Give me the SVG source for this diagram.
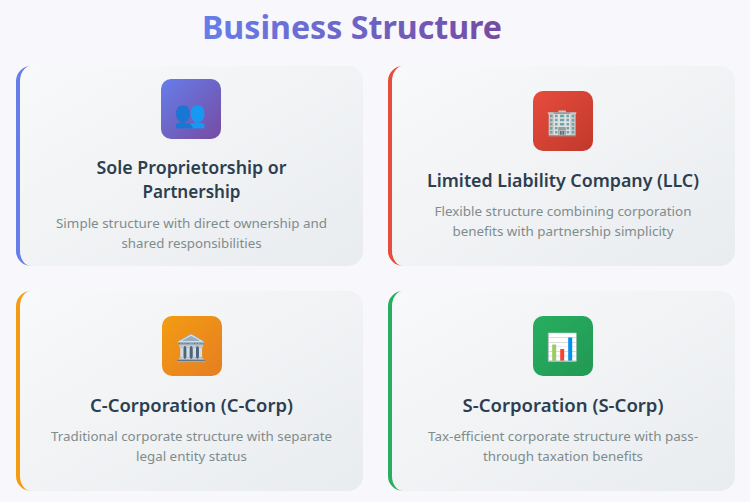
<svg xmlns="http://www.w3.org/2000/svg" width="750" height="502" viewBox="0 0 750 502">
<defs>
<linearGradient id="gTitle" x1="0" y1="0" x2="1" y2="0"><stop offset="0" stop-color="#667eea"/><stop offset="1" stop-color="#764ba2"/></linearGradient>
<linearGradient id="gCard" x1="0" y1="0" x2="1" y2="1"><stop offset="0" stop-color="#f8f9fa"/><stop offset="1" stop-color="#e9ecef"/></linearGradient>
<linearGradient id="gBlue" x1="0" y1="0" x2="1" y2="1"><stop offset="0" stop-color="#667eea"/><stop offset="1" stop-color="#764ba2"/></linearGradient>
<linearGradient id="gRed" x1="0" y1="0" x2="1" y2="1"><stop offset="0" stop-color="#e74c3c"/><stop offset="1" stop-color="#c0392b"/></linearGradient>
<linearGradient id="gOrange" x1="0" y1="0" x2="1" y2="1"><stop offset="0" stop-color="#f39c12"/><stop offset="1" stop-color="#e67e22"/></linearGradient>
<linearGradient id="gGreen" x1="0" y1="0" x2="1" y2="1"><stop offset="0" stop-color="#27ae60"/><stop offset="1" stop-color="#229954"/></linearGradient>
<path id="cardShape" d="M15 0 H332 A15 15 0 0 1 347 15 V185 A15 15 0 0 1 332 200 H15 A15 15 0 0 1 0 185 V15 A15 15 0 0 1 15 0 Z"/>
<path id="edge" d="M15 0 A15 15 0 0 0 0 15 V185 A15 15 0 0 0 15 200 A11 15 0 0 1 4 185 V15 A11 15 0 0 1 15 0 Z"/>
</defs>
<style>
.title{font-family:"Noto Sans","Open Sans",sans-serif;font-weight:700;font-size:32px;}
.h{font-family:"Noto Sans","Open Sans",sans-serif;font-weight:600;font-size:18px;fill:#2c3e50;text-anchor:middle;}
.d{font-family:"Noto Sans","Open Sans",sans-serif;font-size:13px;fill:#7f8c8d;text-anchor:middle;}
.e{font-family:"Noto Color Emoji","Noto Sans",sans-serif;font-size:26px;text-anchor:middle;}
.card{fill:url(#gCard);}
</style>
<rect width="750" height="502" fill="#f7f7fc"/>
<text class="title" x="352" y="39" text-anchor="middle" fill="url(#gTitle)" textLength="300" lengthAdjust="spacingAndGlyphs">Business Structure</text>
<g id="connectors"/>
<g id="sole">
<g transform="translate(16 66)"><use href="#cardShape" class="card"/><use href="#edge" fill="#667eea"/></g>
<rect x="161" y="79" width="60" height="60" rx="10" fill="url(#gBlue)"/>
<text class="e" x="191" y="123">👥</text>
<text class="h" x="191.5" y="174" textLength="190" lengthAdjust="spacingAndGlyphs">Sole Proprietorship or</text>
<text class="h" x="191.5" y="198" textLength="98" lengthAdjust="spacingAndGlyphs">Partnership</text>
<text class="d" x="191.5" y="228" textLength="271" lengthAdjust="spacingAndGlyphs">Simple structure with direct ownership and</text>
<text class="d" x="191.5" y="248" textLength="140" lengthAdjust="spacingAndGlyphs">shared responsibilities</text>
</g>
<g id="llc">
<g transform="translate(388 66)"><use href="#cardShape" class="card"/><use href="#edge" fill="#e74c3c"/></g>
<rect x="533" y="91" width="60" height="60" rx="10" fill="url(#gRed)"/>
<text class="e" x="563" y="131">🏢</text>
<text class="h" x="563" y="187" textLength="272" lengthAdjust="spacingAndGlyphs">Limited Liability Company (LLC)</text>
<text class="d" x="563" y="216" textLength="257" lengthAdjust="spacingAndGlyphs">Flexible structure combining corporation</text>
<text class="d" x="563" y="236" textLength="221" lengthAdjust="spacingAndGlyphs">benefits with partnership simplicity</text>
</g>
<g id="ccorp">
<g transform="translate(16 291)"><use href="#cardShape" class="card"/><use href="#edge" fill="#f39c12"/></g>
<rect x="162" y="316" width="60" height="60" rx="10" fill="url(#gOrange)"/>
<text class="e" x="192" y="357">🏛️</text>
<text class="h" x="191.5" y="412" textLength="203" lengthAdjust="spacingAndGlyphs">C-Corporation (C-Corp)</text>
<text class="d" x="191.5" y="441" textLength="281" lengthAdjust="spacingAndGlyphs">Traditional corporate structure with separate</text>
<text class="d" x="191.5" y="461" textLength="111" lengthAdjust="spacingAndGlyphs">legal entity status</text>
</g>
<g id="scorp">
<g transform="translate(388 291)"><use href="#cardShape" class="card"/><use href="#edge" fill="#27ae60"/></g>
<rect x="533" y="316" width="60" height="60" rx="10" fill="url(#gGreen)"/>
<text class="e" x="563" y="356">📊</text>
<text class="h" x="563" y="412" textLength="201" lengthAdjust="spacingAndGlyphs">S-Corporation (S-Corp)</text>
<text class="d" x="563" y="441" textLength="270" lengthAdjust="spacingAndGlyphs">Tax-efficient corporate structure with pass-</text>
<text class="d" x="563" y="461" textLength="160" lengthAdjust="spacingAndGlyphs">through taxation benefits</text>
</g>
</svg>
